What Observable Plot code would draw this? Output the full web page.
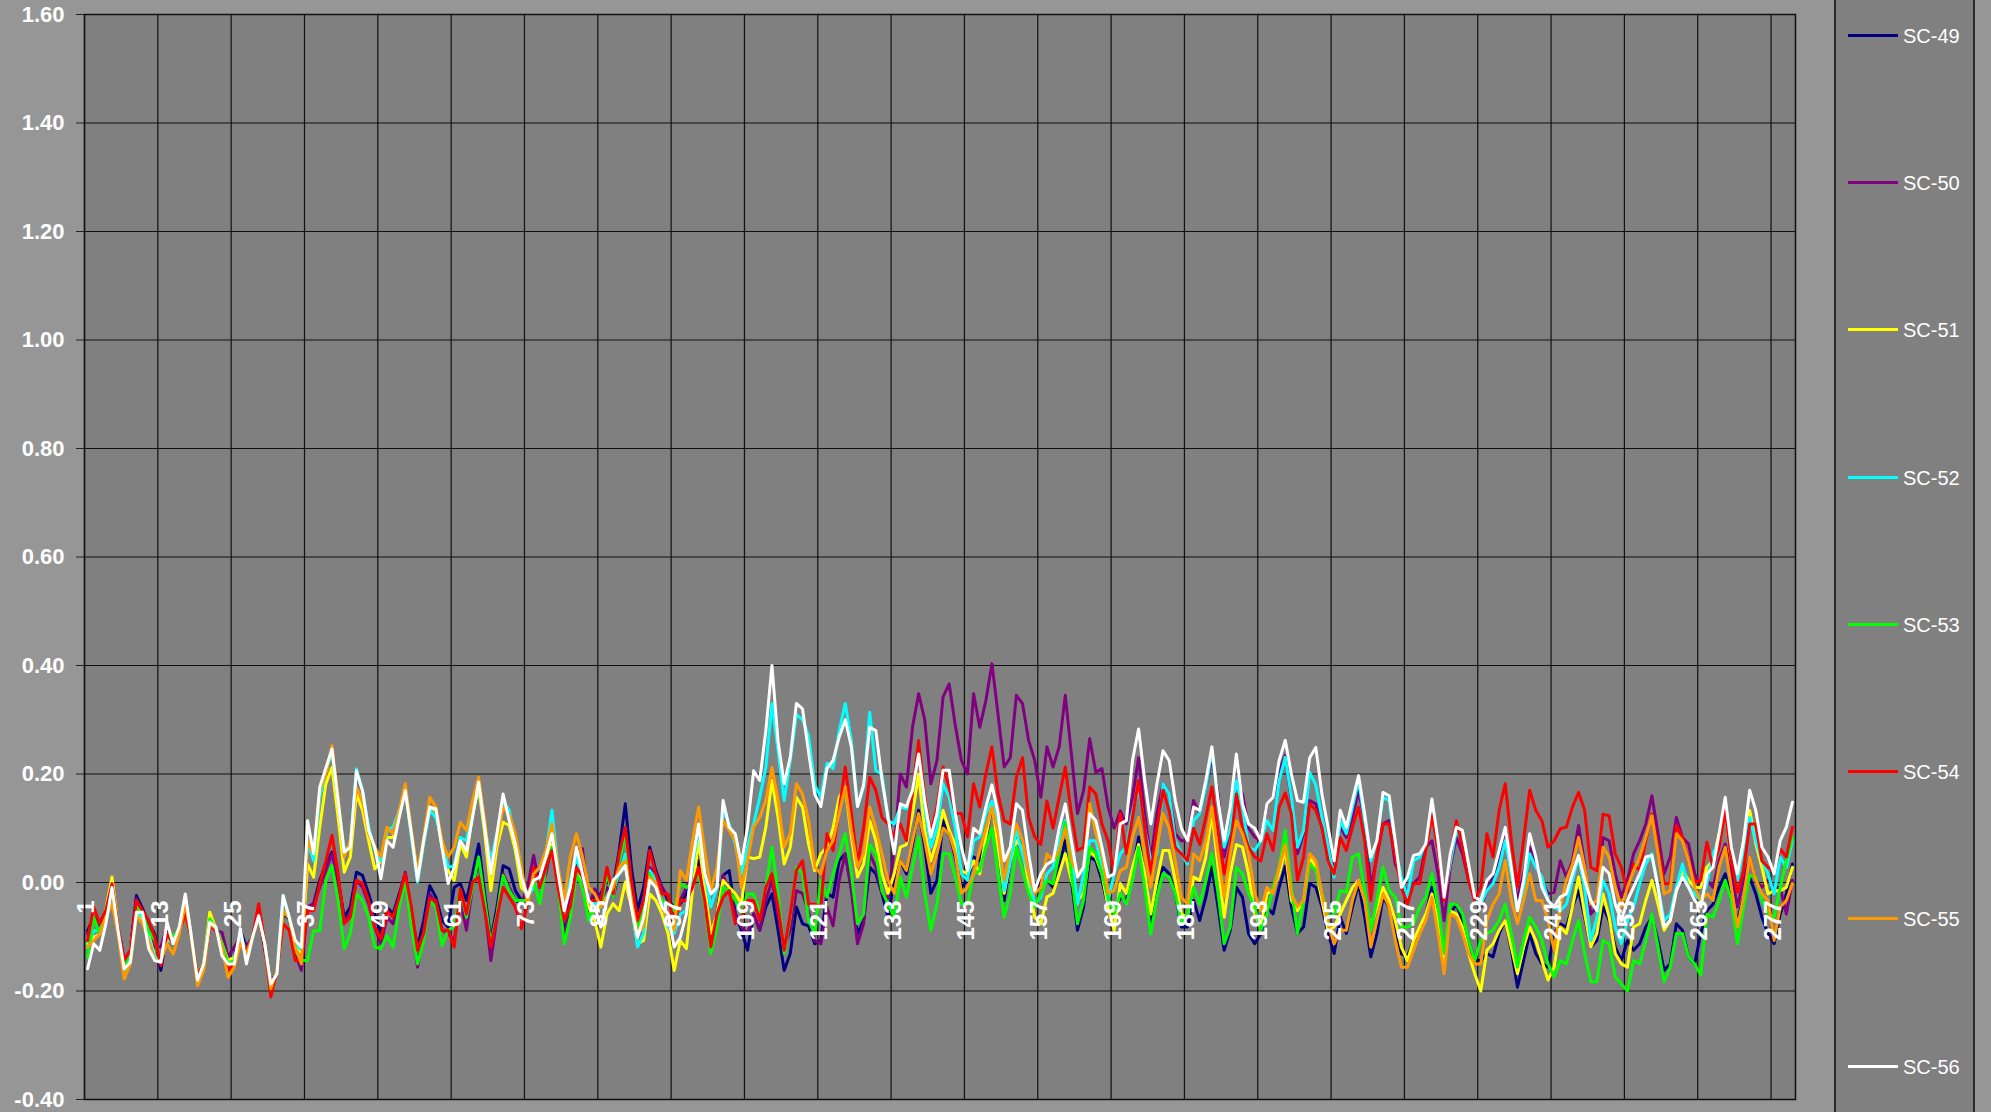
<!DOCTYPE html>
<html><head><meta charset="utf-8">
<script src="https://cdn.jsdelivr.net/npm/d3@7"></script>
<script src="https://cdn.jsdelivr.net/npm/@observablehq/plot@0.6"></script>
<style>
html,body{margin:0;padding:0;background:#969696;overflow:hidden;}
#wrap{position:relative;width:1991px;height:1112px;font-family:"Liberation Sans",Arial,sans-serif;}
#chart{position:absolute;left:0;top:0;}
#legend{position:absolute;left:1834px;top:-3px;width:137px;height:1120px;background:#808080;border-left:2px solid #2b2b2b;border-right:2px solid #2b2b2b;}
.li{position:absolute;left:0;width:137px;height:30px;}
.sw{position:absolute;left:12px;top:13px;width:50px;height:3px;}
.lt{position:absolute;left:67px;top:2px;font-size:20px;color:#fff;line-height:26px;}
</style></head>
<body><div id="wrap"><div id="chart"></div><div id="legend"></div></div>
<script>
const seriesNames = ["SC-49","SC-50","SC-51","SC-52","SC-53","SC-54","SC-55","SC-56"];
const seriesColors = ["#000080","#800080","#FFFF00","#00FFFF","#00FF00","#FF0000","#FF9900","#FFFFFF"];
const yTicks = [-0.4,-0.2,0,0.2,0.4,0.6,0.8,1.0,1.2,1.4,1.6];
const xTickLabels = [1,13,25,37,49,61,73,85,97,109,121,133,145,157,169,181,193,205,217,229,241,253,265,277];

const sc49 = [
-0.089,-0.064,-0.076,-0.052,-0.009,-0.082,-0.144,-0.125,-0.024,-0.048,-0.076,-0.095,-0.162,-0.089,-0.113,-0.089,-0.045,-0.101,-0.171,-0.150,-0.079,-0.085,-0.113,-0.150,-0.138,-0.088,-0.119,-0.101,-0.048,-0.113,-0.187,-0.162,-0.052,-0.067,-0.113,-0.138,-0.052,-0.039,0.004,0.034,
0.056,0.004,-0.064,-0.045,0.019,0.013,-0.021,-0.058,-0.094,-0.045,-0.058,-0.021,0.016,-0.058,-0.119,-0.070,-0.006,-0.027,-0.070,-0.082,-0.009,-0.002,-0.033,0.016,0.071,-0.021,-0.107,-0.045,0.031,0.025,-0.015,-0.033,-0.033,0.004,0.016,0.034,0.077,0.004,-0.094,
-0.039,0.040,0.022,-0.052,-0.021,-0.021,0.004,-0.009,0.059,0.145,0.028,-0.052,-0.009,0.065,0.022,-0.009,-0.033,-0.045,-0.039,-0.021,0.010,0.040,-0.027,-0.094,-0.058,0.013,0.022,-0.058,-0.088,-0.125,-0.058,-0.088,-0.045,-0.021,-0.088,-0.162,-0.131,-0.045,
-0.076,-0.080,-0.113,-0.107,-0.020,-0.027,0.040,0.053,-0.010,-0.095,-0.070,0.028,0.016,-0.020,-0.064,0.004,0.040,0.016,0.070,0.133,0.065,-0.020,0.004,0.114,0.090,0.047,-0.009,0.004,0.047,0.040,0.077,0.145,0.070,-0.033,0.040,0.096,0.065,0.016,-0.020,0.004,0.004,
-0.009,0.028,0.077,0.004,-0.088,-0.045,0.047,0.040,0.004,-0.045,-0.058,-0.027,-0.033,0.016,0.084,0.004,-0.082,-0.002,0.028,0.016,-0.020,-0.082,-0.082,-0.033,-0.070,-0.027,0.028,-0.045,-0.125,-0.088,-0.009,-0.027,-0.095,-0.113,-0.095,-0.045,-0.058,-0.009,0.030,
-0.045,-0.094,-0.082,-0.002,-0.009,-0.045,-0.094,-0.131,-0.064,-0.094,-0.045,-0.002,-0.064,-0.137,-0.094,-0.027,-0.045,-0.082,-0.131,-0.137,-0.107,-0.088,-0.058,-0.009,-0.064,-0.144,-0.058,-0.040,-0.070,-0.107,-0.144,-0.144,-0.131,-0.137,-0.094,-0.070,-0.125,-0.193,-0.144,-0.094,-0.131,
-0.150,-0.156,-0.094,-0.076,-0.082,-0.045,-0.015,-0.064,-0.119,-0.107,-0.045,-0.070,-0.119,-0.144,-0.107,-0.125,-0.113,-0.082,-0.064,-0.107,-0.162,-0.150,-0.076,-0.088,-0.137,-0.150,-0.094,-0.052,-0.040,-0.009,0.016,-0.033,-0.070,-0.027,0.010,-0.021,-0.064,-0.094,-0.113,-0.058,-0.021,0.034];

const sc50 = [
-0.095,-0.064,-0.082,-0.055,-0.015,-0.082,-0.150,-0.125,-0.030,-0.055,-0.082,-0.119,-0.119,-0.082,-0.113,-0.089,-0.045,-0.101,-0.175,-0.150,-0.076,-0.089,-0.092,-0.138,-0.119,-0.101,-0.119,-0.101,-0.055,-0.125,-0.187,-0.162,-0.061,-0.064,-0.132,-0.162,-0.045,-0.039,-0.009,0.022,
0.053,0.004,-0.070,-0.058,0.004,-0.009,-0.039,-0.082,-0.113,-0.064,-0.076,-0.027,0.019,-0.064,-0.156,-0.088,-0.021,-0.039,-0.088,-0.094,-0.107,-0.033,-0.088,-0.009,0.040,-0.045,-0.144,-0.064,0.016,-0.009,-0.033,-0.039,-0.009,0.050,-0.009,0.016,0.071,-0.009,-0.107,
-0.021,0.062,0.062,-0.045,-0.012,-0.033,-0.009,-0.027,0.016,0.053,-0.002,-0.076,-0.039,0.028,0.016,-0.009,-0.027,-0.070,-0.033,-0.009,0.010,0.065,-0.009,-0.101,-0.058,0.013,-0.015,-0.058,-0.082,-0.094,-0.058,-0.088,-0.033,0.004,-0.058,-0.119,-0.088,-0.015,
-0.020,-0.055,-0.107,-0.113,-0.045,-0.080,0.004,0.053,-0.015,-0.113,-0.076,0.053,0.028,-0.020,-0.030,0.060,0.200,0.176,0.286,0.348,0.300,0.182,0.225,0.342,0.366,0.290,0.225,0.200,0.348,0.286,0.335,0.403,0.310,0.213,0.230,0.345,0.330,0.262,0.225,0.157,0.250,
0.213,0.250,0.345,0.237,0.127,0.170,0.265,0.203,0.210,0.139,0.100,0.132,0.108,0.157,0.230,0.127,0.040,0.127,0.182,0.163,0.090,0.077,0.077,0.151,0.127,0.176,0.230,0.163,0.047,0.100,0.188,0.163,0.100,0.084,0.077,0.145,0.157,0.206,0.234,
0.151,0.053,0.090,0.151,0.145,0.102,0.047,0.034,0.102,0.083,0.120,0.169,0.114,-0.009,0.047,0.108,0.114,0.034,0.010,-0.021,-0.002,0.010,0.065,0.077,0.016,-0.070,0.028,0.083,0.053,0.004,-0.033,-0.045,-0.015,0.010,0.047,0.102,0.028,-0.033,0.016,0.065,0.040,
0.004,-0.021,-0.018,0.040,0.010,0.040,0.105,0.034,-0.058,-0.045,0.083,0.077,0.016,-0.027,0.004,0.053,0.077,0.108,0.160,0.090,0.016,0.047,0.120,0.083,0.071,0.016,-0.009,0.004,-0.009,0.040,0.071,0.016,-0.045,0.004,0.047,0.004,-0.009,0.004,-0.009,-0.009,-0.058,0.004];

const sc51 = [
-0.113,-0.101,-0.095,-0.050,0.010,-0.082,-0.162,-0.125,-0.052,-0.070,-0.095,-0.138,-0.144,-0.107,-0.107,-0.089,-0.030,-0.101,-0.175,-0.150,-0.055,-0.085,-0.113,-0.144,-0.138,-0.107,-0.132,-0.101,-0.055,-0.113,-0.193,-0.162,-0.052,-0.064,-0.113,-0.132,0.034,0.010,0.102,0.182,
0.212,0.120,0.019,0.047,0.163,0.133,0.077,0.025,0.040,0.083,0.083,0.126,0.169,0.090,0.016,0.077,0.139,0.133,0.065,0.022,0.004,0.071,0.047,0.126,0.175,0.090,-0.015,0.065,0.111,0.105,0.059,-0.009,-0.021,0.004,0.010,0.047,0.071,0.016,-0.045,
-0.009,0.053,-0.009,-0.045,-0.070,-0.119,-0.058,-0.039,-0.052,0.001,-0.045,-0.113,-0.107,-0.021,-0.033,-0.058,-0.094,-0.162,-0.107,-0.122,-0.015,0.077,-0.009,-0.094,-0.058,0.004,-0.009,-0.021,-0.039,0.047,0.044,0.047,0.102,0.188,0.120,0.034,0.065,0.157,
0.139,0.070,0.022,0.053,0.065,0.100,0.157,0.176,0.084,0.010,0.034,0.114,0.077,0.016,-0.020,0.016,0.065,0.070,0.127,0.200,0.096,0.040,0.077,0.133,0.096,0.070,0.022,0.016,0.040,0.016,0.084,0.145,0.065,-0.020,0.040,0.077,0.065,-0.002,-0.064,-0.076,-0.027,
-0.020,0.016,0.053,0.004,-0.033,-0.020,0.059,0.047,0.016,-0.045,-0.088,-0.002,-0.020,0.028,0.070,0.016,-0.058,0.004,0.059,0.059,0.004,-0.058,-0.064,0.010,0.004,0.047,0.127,0.028,-0.064,0.016,0.070,0.065,0.016,-0.058,-0.082,-0.020,-0.015,0.016,0.060,
-0.033,-0.052,-0.033,0.047,0.028,-0.033,-0.088,-0.082,-0.058,-0.033,-0.009,0.004,-0.033,-0.082,-0.045,-0.009,-0.033,-0.070,-0.119,-0.144,-0.107,-0.082,-0.058,-0.021,-0.070,-0.144,-0.052,-0.058,-0.082,-0.131,-0.168,-0.200,-0.125,-0.113,-0.088,-0.070,-0.119,-0.168,-0.119,-0.082,-0.107,
-0.144,-0.180,-0.156,-0.082,-0.094,-0.045,0.010,-0.058,-0.119,-0.094,-0.021,-0.064,-0.131,-0.150,-0.156,-0.082,-0.076,-0.033,0.004,-0.040,-0.088,-0.070,-0.015,0.022,0.004,-0.009,-0.009,0.028,0.040,0.090,0.133,0.040,0.010,0.077,0.133,0.071,0.028,-0.021,-0.015,-0.015,-0.009,0.028];

const sc52 = [
-0.119,-0.089,-0.089,-0.055,-0.015,-0.082,-0.162,-0.125,-0.052,-0.064,-0.101,-0.138,-0.144,-0.101,-0.113,-0.089,-0.027,-0.101,-0.175,-0.150,-0.076,-0.085,-0.113,-0.150,-0.144,-0.095,-0.132,-0.101,-0.052,-0.113,-0.193,-0.162,-0.024,-0.064,-0.113,-0.125,0.077,0.040,0.157,0.205,
0.240,0.151,0.059,0.071,0.209,0.169,0.102,0.059,0.040,0.096,0.102,0.133,0.172,0.083,0.001,0.071,0.133,0.120,0.077,0.028,0.031,0.083,0.077,0.133,0.182,0.102,0.040,0.090,0.151,0.133,0.077,0.016,-0.027,-0.009,0.004,0.053,0.133,0.028,-0.045,
0.004,0.047,0.004,-0.033,-0.039,-0.039,-0.027,-0.015,0.016,0.053,-0.033,-0.119,-0.094,0.022,0.004,-0.039,-0.082,-0.094,-0.058,-0.052,0.028,0.102,0.016,-0.045,-0.009,0.133,0.108,0.071,0.016,0.065,0.108,0.157,0.212,0.330,0.243,0.151,0.225,0.310,
0.300,0.270,0.180,0.157,0.220,0.210,0.280,0.330,0.260,0.140,0.176,0.314,0.206,0.200,0.114,0.108,0.139,0.136,0.170,0.262,0.139,0.065,0.100,0.182,0.157,0.100,0.016,0.004,0.077,0.084,0.127,0.150,0.100,-0.015,0.040,0.096,0.053,0.016,-0.040,-0.027,0.016,
0.028,0.077,0.114,0.053,-0.040,0.016,0.077,0.077,0.028,-0.033,0.016,0.053,0.065,0.127,0.176,0.100,0.040,0.053,0.182,0.163,0.077,0.053,0.034,0.114,0.127,0.176,0.243,0.151,0.065,0.100,0.188,0.139,0.065,0.059,0.077,0.114,0.096,0.188,0.231,
0.157,0.065,0.096,0.203,0.180,0.120,0.065,0.010,0.114,0.090,0.139,0.188,0.114,0.040,0.077,0.157,0.151,0.065,0.010,-0.027,0.040,0.047,0.071,0.139,0.059,-0.027,0.034,0.096,0.077,0.016,-0.033,-0.040,-0.015,-0.002,0.028,0.077,0.016,-0.052,-0.009,0.053,0.028,
0.010,-0.033,-0.045,-0.052,-0.040,0.004,0.047,-0.009,-0.107,-0.064,0.004,-0.021,-0.082,-0.113,-0.070,-0.045,-0.002,0.034,0.053,-0.009,-0.070,-0.058,-0.009,0.034,-0.009,-0.021,-0.033,-0.002,0.053,0.077,0.139,0.047,0.004,0.065,0.120,0.077,0.040,0.016,-0.021,0.047,0.028,0.077];

const sc53 = [
-0.138,-0.064,-0.095,-0.050,-0.012,-0.082,-0.156,-0.125,-0.045,-0.058,-0.089,-0.107,-0.144,-0.095,-0.098,-0.089,-0.039,-0.101,-0.168,-0.150,-0.067,-0.085,-0.113,-0.150,-0.144,-0.113,-0.125,-0.101,-0.052,-0.113,-0.199,-0.162,-0.055,-0.064,-0.125,-0.144,-0.144,-0.089,-0.089,0.004,
0.031,-0.033,-0.122,-0.094,-0.021,-0.033,-0.064,-0.119,-0.122,-0.098,-0.119,-0.045,0.004,-0.082,-0.150,-0.107,-0.033,-0.045,-0.116,-0.088,-0.082,-0.015,-0.064,-0.009,0.047,-0.033,-0.113,-0.058,0.013,-0.015,-0.033,-0.033,-0.033,0.004,-0.039,0.028,0.065,-0.009,-0.113,
-0.064,0.016,-0.009,-0.070,-0.045,-0.045,0.016,-0.027,0.040,0.090,-0.009,-0.088,-0.045,0.016,-0.009,-0.033,-0.039,-0.052,-0.002,-0.009,-0.002,0.016,-0.039,-0.131,-0.082,-0.009,-0.015,-0.033,-0.058,-0.021,-0.021,-0.058,-0.009,0.065,-0.021,-0.131,-0.064,0.028,
0.016,-0.070,-0.095,0.004,-0.027,0.016,0.053,0.090,0.016,-0.076,-0.058,0.070,0.053,-0.015,-0.040,-0.064,0.010,-0.027,0.028,0.084,-0.020,-0.088,-0.040,0.053,0.053,0.010,-0.040,-0.040,0.016,0.022,0.065,0.100,0.016,-0.064,-0.020,0.065,0.022,-0.020,-0.045,-0.020,0.004,
-0.002,0.053,0.111,0.016,-0.076,-0.033,0.065,0.053,0.016,-0.027,-0.058,-0.020,-0.040,0.004,0.065,-0.009,-0.095,-0.027,0.016,0.010,-0.020,-0.076,-0.058,-0.009,-0.040,0.004,0.053,-0.020,-0.113,-0.082,0.028,0.016,-0.020,-0.045,-0.088,-0.058,-0.009,0.028,0.096,
-0.009,-0.094,-0.033,0.034,0.022,-0.021,-0.064,-0.058,-0.015,-0.018,0.047,0.053,-0.015,-0.088,-0.033,0.028,-0.015,-0.027,-0.082,-0.082,-0.076,-0.045,-0.027,0.016,-0.045,-0.131,-0.040,-0.040,-0.058,-0.107,-0.144,-0.107,-0.094,-0.088,-0.070,-0.040,-0.094,-0.156,-0.107,-0.064,-0.082,
-0.107,-0.150,-0.174,-0.144,-0.150,-0.107,-0.070,-0.131,-0.183,-0.183,-0.107,-0.113,-0.174,-0.187,-0.200,-0.144,-0.150,-0.107,-0.058,-0.119,-0.183,-0.156,-0.094,-0.094,-0.137,-0.150,-0.171,-0.058,-0.064,-0.033,0.004,-0.033,-0.113,-0.045,0.013,0.010,-0.033,-0.058,-0.064,-0.009,0.040,0.083];

const sc54 = [
-0.107,-0.045,-0.076,-0.052,-0.002,-0.082,-0.144,-0.125,-0.033,-0.052,-0.070,-0.101,-0.153,-0.095,-0.113,-0.089,-0.058,-0.101,-0.171,-0.150,-0.082,-0.085,-0.125,-0.162,-0.150,-0.113,-0.125,-0.101,-0.039,-0.113,-0.211,-0.162,-0.076,-0.088,-0.144,-0.144,-0.052,-0.052,-0.002,0.040,
0.087,0.016,-0.076,-0.064,0.004,-0.002,-0.033,-0.082,-0.104,-0.052,-0.064,-0.027,0.016,-0.045,-0.125,-0.094,-0.030,-0.033,-0.088,-0.088,-0.119,-0.012,-0.058,0.001,0.010,-0.052,-0.119,-0.064,-0.009,-0.027,-0.045,-0.085,-0.039,0.028,-0.009,0.028,0.059,-0.009,-0.070,
-0.045,0.028,0.010,-0.033,-0.033,-0.033,0.028,-0.021,0.053,0.102,0.004,-0.070,-0.033,0.059,0.016,-0.021,-0.021,-0.082,-0.033,-0.033,-0.009,0.028,-0.033,-0.119,-0.058,-0.027,-0.015,-0.076,-0.064,-0.033,-0.033,-0.070,-0.009,0.016,-0.045,-0.125,-0.058,0.022,
0.040,-0.040,-0.040,-0.045,0.090,0.059,0.133,0.213,0.127,0.034,0.100,0.194,0.170,0.120,0.108,0.084,0.108,0.077,0.170,0.262,0.157,0.090,0.139,0.213,0.176,0.127,0.127,0.084,0.182,0.139,0.200,0.250,0.163,0.114,0.108,0.194,0.230,0.120,0.084,0.070,0.150,
0.100,0.157,0.213,0.127,0.059,0.065,0.176,0.163,0.108,0.077,0.016,0.127,0.053,0.120,0.188,0.100,0.016,0.100,0.170,0.133,0.065,0.053,0.040,0.100,0.070,0.120,0.176,0.096,0.016,0.065,0.163,0.100,0.065,0.047,0.040,0.090,0.059,0.139,0.165,
0.126,0.004,0.047,0.145,0.133,0.102,0.040,0.016,0.083,0.059,0.102,0.139,0.077,-0.033,0.053,0.108,0.108,0.047,-0.009,-0.040,-0.002,-0.002,0.059,0.126,0.059,-0.033,0.047,0.114,0.065,0.004,-0.033,-0.009,0.090,0.047,0.133,0.182,0.077,-0.009,0.077,0.170,0.133,
0.114,0.065,0.077,0.099,0.102,0.139,0.166,0.133,0.028,0.022,0.126,0.123,0.053,0.028,-0.018,0.034,0.022,0.077,0.126,0.065,-0.002,-0.002,0.105,0.083,0.040,0.000,0.004,0.074,0.028,0.065,0.133,0.040,-0.018,0.022,0.108,0.108,0.040,0.028,0.022,0.062,0.047,0.102];

const sc55 = [
-0.119,-0.107,-0.095,-0.064,-0.039,-0.095,-0.178,-0.150,-0.061,-0.076,-0.107,-0.144,-0.144,-0.113,-0.132,-0.095,-0.039,-0.101,-0.190,-0.162,-0.076,-0.085,-0.119,-0.175,-0.156,-0.113,-0.132,-0.101,-0.064,-0.113,-0.196,-0.162,-0.052,-0.064,-0.119,-0.150,0.077,0.053,0.170,0.199,
0.252,0.157,0.047,0.077,0.175,0.151,0.090,0.065,0.047,0.102,0.090,0.133,0.182,0.096,0.016,0.083,0.157,0.139,0.077,0.047,0.065,0.111,0.096,0.151,0.194,0.114,0.016,0.077,0.139,0.126,0.090,0.028,-0.039,0.016,0.028,0.059,0.108,0.028,-0.033,
0.047,0.090,0.047,-0.009,-0.021,-0.045,-0.027,-0.009,0.028,0.040,-0.033,-0.094,-0.082,0.010,-0.002,-0.045,-0.070,-0.088,0.022,0.004,0.077,0.139,0.059,-0.015,0.028,0.114,0.096,0.077,-0.009,0.040,0.102,0.120,0.151,0.212,0.151,0.065,0.090,0.182,
0.163,0.114,0.028,0.016,0.059,0.077,0.127,0.176,0.096,0.028,0.053,0.139,0.100,0.053,0.004,-0.020,0.040,0.022,0.077,0.127,0.077,0.016,0.053,0.100,0.090,0.053,-0.020,-0.009,0.016,0.059,0.100,0.139,0.090,0.004,0.065,0.108,0.077,0.016,-0.020,-0.009,0.053,
0.040,0.059,0.100,0.040,0.016,0.028,0.145,0.090,0.053,-0.020,-0.015,0.022,0.028,0.084,0.120,0.053,-0.009,0.065,0.127,0.100,0.040,-0.027,-0.040,0.053,0.040,0.077,0.139,0.053,-0.027,0.053,0.114,0.090,0.053,-0.020,-0.052,-0.009,-0.020,0.028,0.070,
-0.021,-0.045,-0.033,0.053,0.040,-0.021,-0.076,-0.113,-0.088,-0.088,-0.033,0.004,-0.033,-0.119,-0.070,-0.021,-0.045,-0.107,-0.156,-0.156,-0.125,-0.094,-0.070,-0.027,-0.094,-0.168,-0.058,-0.064,-0.094,-0.131,-0.150,-0.150,-0.070,-0.040,-0.021,0.040,-0.033,-0.076,-0.033,0.016,-0.033,
-0.033,-0.070,-0.125,-0.045,0.004,0.034,0.083,0.028,-0.040,-0.033,0.065,0.047,-0.009,-0.045,-0.009,0.022,0.047,0.083,0.123,0.053,-0.021,-0.015,0.090,0.077,0.040,-0.009,-0.033,-0.021,-0.033,0.028,0.065,-0.009,-0.082,-0.027,0.047,0.004,-0.021,-0.033,-0.107,-0.045,-0.033,-0.002];

const sc56 = [
-0.159,-0.113,-0.125,-0.076,-0.009,-0.089,-0.159,-0.147,-0.055,-0.055,-0.122,-0.144,-0.147,-0.073,-0.113,-0.082,-0.021,-0.101,-0.180,-0.150,-0.073,-0.082,-0.135,-0.150,-0.150,-0.085,-0.150,-0.101,-0.061,-0.113,-0.187,-0.168,-0.024,-0.064,-0.107,-0.119,0.114,0.053,0.176,0.211,
0.246,0.151,0.056,0.065,0.206,0.169,0.096,0.065,0.007,0.077,0.065,0.120,0.169,0.090,0.004,0.077,0.139,0.136,0.065,-0.002,0.028,0.077,0.059,0.120,0.185,0.102,0.016,0.090,0.163,0.114,0.071,0.010,-0.027,0.004,0.010,0.047,0.090,0.016,-0.052,
-0.009,0.065,0.016,-0.033,-0.045,-0.082,-0.033,0.004,0.016,0.031,-0.045,-0.101,-0.064,0.004,-0.009,-0.045,-0.058,-0.119,-0.101,-0.058,0.040,0.108,0.016,-0.021,-0.009,0.151,0.102,0.090,0.034,0.102,0.206,0.188,0.280,0.400,0.260,0.182,0.231,0.330,
0.320,0.240,0.163,0.140,0.210,0.225,0.268,0.300,0.250,0.140,0.180,0.286,0.280,0.190,0.120,0.053,0.145,0.140,0.170,0.237,0.150,0.084,0.127,0.207,0.207,0.127,0.065,0.022,0.100,0.090,0.139,0.180,0.127,0.040,0.065,0.145,0.133,0.053,-0.015,0.016,0.034,
0.040,0.100,0.145,0.077,0.010,0.028,0.127,0.114,0.065,0.010,0.016,0.108,0.114,0.225,0.283,0.188,0.108,0.182,0.243,0.225,0.151,0.100,0.077,0.139,0.133,0.188,0.250,0.151,0.077,0.139,0.237,0.145,0.108,0.100,0.077,0.145,0.157,0.225,0.262,
0.200,0.151,0.148,0.230,0.249,0.163,0.102,0.040,0.133,0.102,0.151,0.197,0.126,0.047,0.077,0.166,0.160,0.077,-0.009,0.010,0.050,0.053,0.071,0.154,0.077,-0.027,0.053,0.102,0.096,0.034,-0.027,-0.033,0.004,0.016,0.059,0.102,0.028,-0.052,0.004,0.090,0.047,
-0.009,-0.033,-0.045,-0.027,-0.021,0.016,0.050,0.004,-0.033,-0.052,0.028,0.016,-0.040,-0.070,-0.033,-0.009,0.016,0.047,0.050,-0.009,-0.082,-0.070,-0.015,0.010,-0.009,-0.033,-0.045,0.016,0.028,0.090,0.157,0.065,0.016,0.077,0.170,0.133,0.065,0.047,0.016,0.077,0.102,0.148];

const seriesValues = [sc49, sc50, sc51, sc52, sc53, sc54, sc55, sc56];

// category boundaries where gridlines/labels sit (label k sits at boundary k-1)
const xTickPos = xTickLabels.map(l => l - 1);
const nPoints = Math.max(...seriesValues.map(s => s.length));

const font = '"Liberation Sans", Arial, sans-serif';
const lineMarks = seriesValues.map((vals, k) =>
  Plot.line(vals.map((v, j) => ({x: j + 0.5, y: v})), {
    x: "x", y: "y", stroke: seriesColors[k], strokeWidth: 3, strokeLinejoin: "round"
  })
);

const chart = Plot.plot({
  width: 1830, height: 1112,
  marginLeft: 84, marginRight: 35, marginTop: 14, marginBottom: 13,
  style: {background: "transparent", fontFamily: font, overflow: "visible"},
  x: {domain: [0, nPoints], axis: null},
  y: {domain: [-0.4, 1.6], axis: null},
  marks: [
    Plot.frame({fill: "#808080", stroke: "none"}),
    Plot.gridY(yTicks, {stroke: "#111", strokeOpacity: 1, strokeWidth: 1.2}),
    Plot.gridX(xTickPos, {stroke: "#111", strokeOpacity: 1, strokeWidth: 1.2}),
    Plot.axisY(yTicks, {tickSize: 8, tickPadding: 12, stroke: "#222", fill: "#ffffff",
      tickFormat: d => d.toFixed(2), fontSize: 22, fontWeight: "bold", label: null}),
    ...lineMarks,
    Plot.text(xTickPos, {x: d => d, y: () => 0, text: (d, i) => String(xTickLabels[i]),
      rotate: -90, textAnchor: "end", dy: 18, dx: 2, fill: "#ffffff", fontSize: 24, fontWeight: "bold"}),
    Plot.frame({stroke: "#111", strokeWidth: 1.5})
  ]
});
document.getElementById("chart").appendChild(chart);

const legend = d3.select("#legend");
seriesNames.forEach((name, k) => {
  const item = legend.append("div").attr("class", "li").style("top", (3 + 35.6 + k * 147.3 - 15) + "px");
  item.append("div").attr("class", "sw").style("background", seriesColors[k]);
  item.append("div").attr("class", "lt").text(name);
});
</script>
</body></html>
